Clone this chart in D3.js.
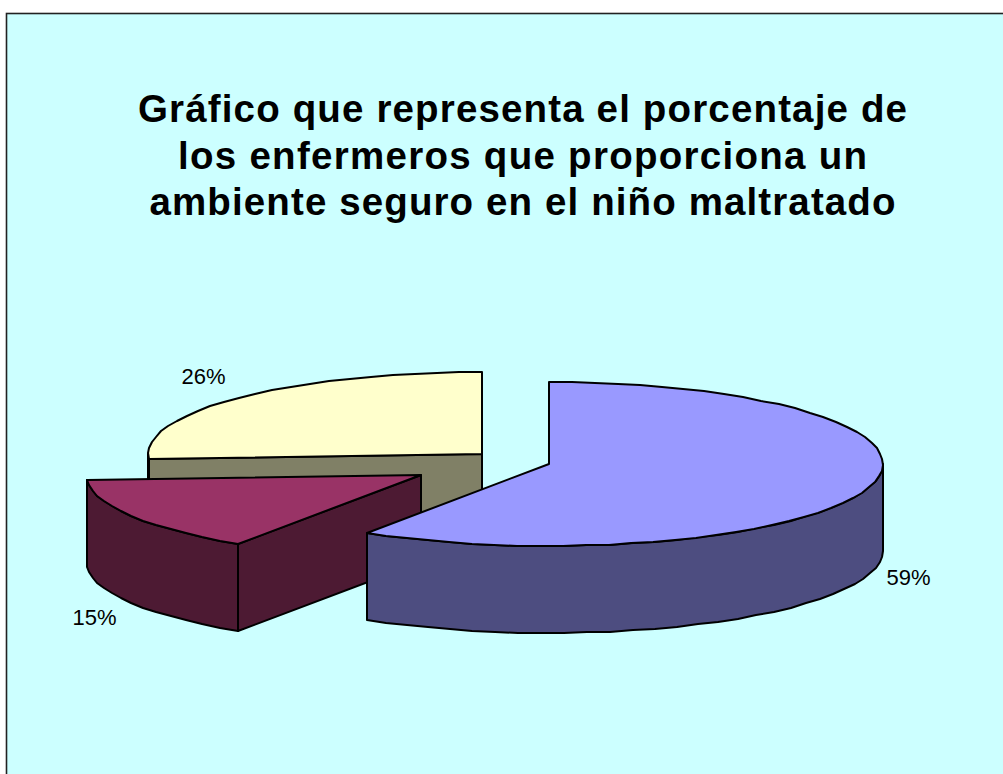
<!DOCTYPE html>
<html><head><meta charset="utf-8">
<style>html,body{margin:0;padding:0;background:#fff}svg{display:block}text{font-family:"Liberation Sans",Arial,sans-serif;fill:#000}</style>
<script src="https://cdn.jsdelivr.net/npm/d3@7"></script>
</head><body><div id="c"></div>
<script>
const categories = ["Sí", "A veces", "No"];
const values = [59.2, 14.9, 25.9];
const labels = ["59%", "15%", "26%"];
const topColors = ["#9999FF", "#993366", "#FFFFCC"];
const sideColors = ["#4D4D80", "#4D1A33", "#808066"];
const apexX = [549, 420.5, 482];
const apexY = [464, 475, 454];
const labelX = [908.5, 94.5, 203.5];
const labelY = [585, 625, 384];
const titleLines = ["Gráfico que representa el porcentaje de", "los enfermeros que proporciona un", "ambiente seguro en el niño maltratado"];
const titleBaselines = [122, 169, 215];
const titleWidths = [769, 689, 746];

const W = 1003, H = 774, RX = 334, RY = 82, DEPTH = 87;
const svg = d3.select("#c").append("svg").attr("width", W).attr("height", H);
svg.append("rect").attr("x", 6.5).attr("y", 13.5).attr("width", W + 10).attr("height", H + 10)
  .attr("fill", "#CCFFFF").attr("stroke", "#222").attr("stroke-width", 1.6);

const arcs = d3.pie().sort(null).startAngle(0).endAngle(2 * Math.PI)(values);
const sx = d3.scaleLinear().domain([-1, 1]).range([-RX, RX]);
const sy = d3.scaleLinear().domain([-1, 1]).range([-RY, RY]);
const pt = (i, a, dz = 0) => [apexX[i] + sx(Math.sin(a)), apexY[i] + sy(-Math.cos(a)) + dz];
const line = d3.line().x(d => Math.round(d[0])).y(d => Math.round(d[1]));
const sample = (a0, a1, i, dz) => d3.range(0, 1.0001, 1 / Math.max(1, Math.ceil((a1 - a0) / 0.07)))
  .map(t => pt(i, a0 + (a1 - a0) * t, dz));

const order = [2, 1, 0];
const g = svg.selectAll("g.slice").data(order).join("g").attr("class", "slice")
  .attr("stroke", "#000").attr("stroke-width", 2).attr("stroke-linejoin", "round");

g.each(function (i) {
  const sel = d3.select(this), d = arcs[i];
  const a0 = d.startAngle, a1 = d.endAngle;
  if (a0 > Math.PI / 2 && a0 < 3 * Math.PI / 2) {
    const e = pt(i, a0);
    const o = [apexX[i], apexY[i]];
    sel.append("path").attr("fill", sideColors[i])
      .attr("d", line([o, e, [e[0], e[1] + DEPTH], [o[0], o[1] + DEPTH]]) + "Z");
  }
  const s0 = Math.max(a0, Math.PI / 2), s1 = Math.min(a1, 3 * Math.PI / 2);
  if (s1 > s0) {
    const upper = sample(s0, s1, i, 0), lower = sample(s0, s1, i, DEPTH).reverse();
    sel.append("path").attr("fill", sideColors[i]).attr("d", line(upper.concat(lower)) + "Z");
  }
  const rim = sample(a0, a1, i, 0);
  sel.append("path").attr("fill", topColors[i])
    .attr("d", line([[apexX[i], apexY[i]]].concat(rim)) + "Z");
});

svg.selectAll("text.lab").data(labels).join("text").attr("class", "lab")
  .attr("x", (d, i) => labelX[i]).attr("y", (d, i) => labelY[i])
  .attr("text-anchor", "middle").attr("font-size", 22).text(d => d);

svg.selectAll("text.title").data(titleLines).join("text").attr("class", "title")
  .attr("x", 522.5).attr("y", (d, i) => titleBaselines[i])
  .attr("text-anchor", "middle").attr("font-size", 38.5).attr("font-weight", "bold")
  .attr("textLength", (d, i) => titleWidths[i]).attr("lengthAdjust", "spacing").text(d => d);
</script></body></html>
